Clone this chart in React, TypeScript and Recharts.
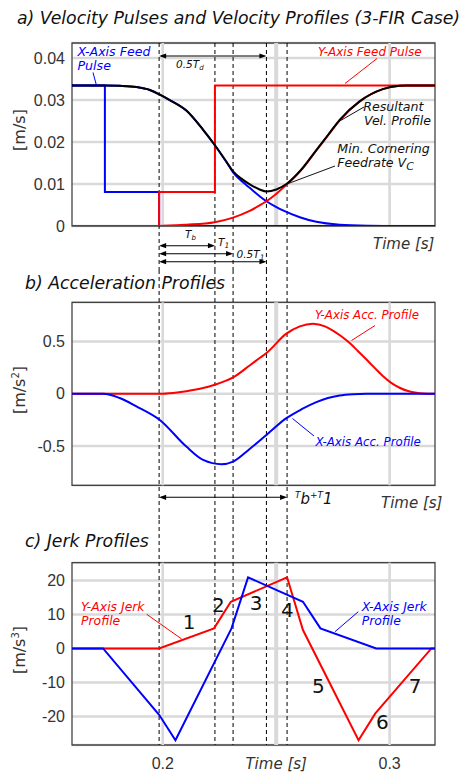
import React from 'react';
import {
  ComposedChart,
  Line,
  XAxis,
  YAxis,
  CartesianGrid,
  ReferenceLine,
  ReferenceArea,
} from 'recharts';

type Pt = [number, number];

// ---------- shared time axis ----------
const timeDomain: [number, number] = [0.16, 0.32];
const timeTicks = [0.2, 0.25, 0.3];
const timeTickLabels: Record<string, string> = { '0.2': '0.2', '0.25': 'Time [s]', '0.3': '0.3' };
const markerTimes = [0.1984, 0.223, 0.231, 0.2457, 0.2548];

// ---------- a) velocity ----------
const velDomain: [number, number] = [0, 0.0436];
const velTicks = [0, 0.01, 0.02, 0.03, 0.04];
const xFeedPulse: Pt[] = [
  [0.16, 0.0335], [0.1745, 0.0335], [0.1745, 0.0081], [0.1984, 0.0081], [0.1984, 0], [0.32, 0],
];
const yFeedPulse: Pt[] = [
  [0.16, 0], [0.1984, 0], [0.1984, 0.0081], [0.223, 0.0081], [0.223, 0.0335], [0.32, 0.0335],
];
const xVelocity: Pt[] = [
  [0.16, 0.0335], [0.1745, 0.0335], [0.181, 0.0334], [0.1884, 0.0331], [0.1943, 0.0324],
  [0.1987, 0.0313], [0.2031, 0.03], [0.2104, 0.0275], [0.2178, 0.0229], [0.2229, 0.0193],
  [0.2281, 0.0152], [0.231, 0.0128], [0.2354, 0.0104], [0.2383, 0.0091], [0.2427, 0.0071],
  [0.2457, 0.0059], [0.2501, 0.0045], [0.253, 0.0037], [0.2604, 0.0021], [0.2677, 0.001],
  [0.278, 0.0003], [0.29, 0.00005], [0.3, 0], [0.32, 0],
];
const yVelocity: Pt[] = [
  [0.16, 0], [0.1984, 0], [0.2104, 0.0003], [0.2229, 0.0009], [0.231, 0.002], [0.2383, 0.0036],
  [0.2427, 0.0049], [0.2457, 0.0059], [0.2501, 0.0077], [0.2545, 0.0098], [0.261, 0.0133],
  [0.2677, 0.018], [0.273, 0.0217], [0.278, 0.0252], [0.2868, 0.0297], [0.297, 0.0326],
  [0.3044, 0.0334], [0.3074, 0.0335], [0.32, 0.0335],
];
const resultantVelocity: Pt[] = [
  [0.16, 0.0335], [0.1745, 0.0335], [0.181, 0.0334], [0.1884, 0.0331], [0.1943, 0.0324],
  [0.1987, 0.0313], [0.2031, 0.03], [0.2104, 0.0275], [0.2178, 0.0229], [0.2229, 0.0193],
  [0.2281, 0.0153], [0.231, 0.013], [0.2354, 0.011], [0.2391, 0.0097], [0.2427, 0.0087],
  [0.2457, 0.0082], [0.2501, 0.0087], [0.2545, 0.01], [0.261, 0.0134], [0.2677, 0.0181],
  [0.273, 0.0218], [0.278, 0.0253], [0.2868, 0.0297], [0.297, 0.0326], [0.3044, 0.0334],
  [0.3074, 0.0335], [0.32, 0.0335],
];

// ---------- b) acceleration ----------
const accDomain: [number, number] = [-0.875, 0.875];
const accTicks = [-0.5, 0, 0.5];
const yAcceleration: Pt[] = [
  [0.16, 0], [0.1987, 0], [0.2045, 0.008], [0.2104, 0.025], [0.2178, 0.055], [0.2229, 0.086],
  [0.231, 0.156], [0.2383, 0.271], [0.2427, 0.342], [0.2457, 0.39], [0.2545, 0.575],
  [0.2604, 0.645], [0.2662, 0.67], [0.2715, 0.645], [0.275, 0.605], [0.2787, 0.55],
  [0.2824, 0.485], [0.286, 0.41], [0.2897, 0.33], [0.2933, 0.25], [0.297, 0.17],
  [0.3007, 0.105], [0.3044, 0.058], [0.3081, 0.026], [0.3118, 0.009], [0.315, 0.002],
  [0.3176, 0], [0.32, 0],
];
const xAcceleration: Pt[] = [
  [0.16, 0], [0.1737, 0], [0.181, -0.04], [0.1884, -0.12], [0.1987, -0.25], [0.2104, -0.505],
  [0.2178, -0.632], [0.2259, -0.673], [0.231, -0.648], [0.2383, -0.527], [0.2457, -0.393],
  [0.2545, -0.233], [0.261, -0.15], [0.2677, -0.08], [0.2728, -0.04], [0.278, -0.016],
  [0.284, -0.004], [0.2897, 0], [0.32, 0],
];

// ---------- c) jerk ----------
const jerkDomain: [number, number] = [-28.4, 25.2];
const jerkTicks = [-20, -10, 0, 10, 20];
const xJerk: Pt[] = [
  [0.16, 0], [0.1737, 0], [0.1984, -19.5], [0.2056, -27], [0.2303, 5.9], [0.2376, 20.9],
  [0.2618, 13.7], [0.2695, 5.9], [0.2941, 0], [0.32, 0],
];
const yJerk: Pt[] = [
  [0.16, 0], [0.1984, 0], [0.2226, 5.9], [0.23, 13.7], [0.2548, 20.9], [0.2618, 5.4],
  [0.2863, -27], [0.2937, -19.1], [0.3184, 0], [0.32, 0],
];

// ---------- styling ----------
const W = 466;
const RED = '#ff0000';
const BLUE = '#0000ff';
const GRID = '#d9d9d9';
const SANS = 'DejaVu Sans';
const TICKFONT = 'Liberation Sans';

type Series = { data: Pt[]; color: string; smooth?: boolean };
type Arrow = { from: number; to: number; y: number };

const toRows = (pts: Pt[]) => pts.map(([t, v]) => ({ t, v }));

const dashShape = (mode: 'a' | 'b' | 'c', height: number) => (p: any) => {
  const top = Math.min(p.y1, p.y2);
  const bottom = Math.max(p.y1, p.y2);
  const ya = mode === 'a' ? top : 0;
  const yb = mode === 'c' ? bottom : height;
  return <line x1={p.x1} x2={p.x1} y1={ya} y2={yb} stroke="#000" strokeWidth={1} strokeDasharray="4 3" />;
};

const arrowShape = (y: number) => (p: any) => {
  const a = Math.min(p.x1, p.x2);
  const b = Math.max(p.x1, p.x2);
  const L = 7;
  const H = 2.6;
  return (
    <g>
      <line x1={a + 2} x2={b - 2} y1={y} y2={y} stroke="#000" strokeWidth={1.1} />
      <polygon points={`${a},${y} ${a + L},${y - H} ${a + L},${y + H}`} fill="#000" />
      <polygon points={`${b},${y} ${b - L},${y - H} ${b - L},${y + H}`} fill="#000" />
    </g>
  );
};

const TimeTick = (p: any) => {
  const v = p.payload.value;
  const mid = v === 0.25;
  return (
    <text
      x={p.x}
      y={p.y + 12}
      textAnchor="middle"
      fontFamily={mid ? SANS : TICKFONT}
      fontStyle={mid ? 'italic' : 'normal'}
      fontSize={mid ? 15 : 16}
      fill="#333"
    >
      {timeTickLabels[String(v)]}
    </text>
  );
};

function Panel(props: {
  top: number;
  height: number;
  mTop: number;
  mBottom: number;
  domain: [number, number];
  ticks: number[];
  series: Series[];
  mode: 'a' | 'b' | 'c';
  arrows: Arrow[];
  showX: boolean;
}) {
  const { top, height, mTop, mBottom, domain, ticks, series, mode, arrows, showX } = props;
  return (
    <div style={{ position: 'absolute', left: 0, top, width: W, height }}>
      <ComposedChart width={W} height={height} margin={{ top: mTop, right: 31, bottom: mBottom, left: 0 }}>
        <CartesianGrid vertical={false} stroke={GRID} strokeWidth={2.5} />
        <XAxis
          type="number"
          dataKey="t"
          domain={timeDomain}
          ticks={timeTicks}
          allowDataOverflow
          hide={!showX}
          height={showX ? 33 : 0}
          axisLine={false}
          tickLine={false}
          tickSize={0}
          tickMargin={12}
          interval={0}
          tick={<TimeTick />}
        />
        <YAxis
          type="number"
          domain={domain}
          ticks={ticks}
          allowDataOverflow
          width={72}
          axisLine={false}
          tickLine={false}
          tickSize={0}
          tickMargin={7}
          interval={0}
          tick={{ fill: '#333', fontSize: 16, fontFamily: TICKFONT }}
        />
        {timeTicks.map((t) => (
          <ReferenceLine key={'g' + t} x={t} stroke={GRID} strokeWidth={t === 0.25 ? 4 : 2.6} />
        ))}
        <ReferenceArea
          x1={timeDomain[0]}
          x2={timeDomain[1]}
          y1={domain[0]}
          y2={domain[1]}
          fill="none"
          fillOpacity={0}
          stroke="#444"
          strokeWidth={1.3}
          ifOverflow="visible"
        />
        {markerTimes.map((t) => (
          <ReferenceLine key={'d' + t} x={t} shape={dashShape(mode, height)} />
        ))}
        {series.map((s, i) => (
          <Line
            key={'s' + i}
            data={toRows(s.data)}
            dataKey="v"
            type={s.smooth ? 'monotone' : 'linear'}
            stroke={s.color}
            strokeWidth={2}
            dot={false}
            activeDot={false}
            isAnimationActive={false}
          />
        ))}
        {arrows.map((a, i) => (
          <ReferenceLine
            key={'a' + i}
            segment={[{ x: a.from, y: domain[0] }, { x: a.to, y: domain[0] }]}
            ifOverflow="visible"
            shape={arrowShape(a.y)}
          />
        ))}
      </ComposedChart>
    </div>
  );
}

const it = { fontFamily: SANS, fontStyle: 'italic' as const };

function Overlay() {
  return (
    <svg
      width={W}
      height={778}
      style={{ position: 'absolute', left: 0, top: 0, pointerEvents: 'none' }}
    >
      {/* titles */}
      <text x={17} y={24} fontSize={17.3} fill="#111" {...it}>a) Velocity Pulses and Velocity Profiles (3-FIR Case)</text>
      <text x={25} y={289} fontSize={17.3} fill="#111" {...it}>b) Acceleration Profiles</text>
      <text x={25} y={547} fontSize={17.3} fill="#111" {...it}>c) Jerk Profiles</text>

      {/* y labels */}
      <text x={0} y={0} transform="translate(25,130) rotate(-90)" textAnchor="middle" fontFamily={SANS} fontSize={16} fill="#333">[m/s]</text>
      <text x={0} y={0} transform="translate(25,390) rotate(-90)" textAnchor="middle" fontFamily={SANS} fontSize={16} fill="#333">
        [m/s<tspan fontSize={10} dy={-6}>2</tspan><tspan dy={6}>]</tspan>
      </text>
      <text x={0} y={0} transform="translate(25,650) rotate(-90)" textAnchor="middle" fontFamily={SANS} fontSize={16} fill="#333">
        [m/s<tspan fontSize={10} dy={-6}>3</tspan><tspan dy={6}>]</tspan>
      </text>

      {/* x labels for a and b */}
      <text x={373} y={249} fontSize={15} fill="#333" {...it}>Time [s]</text>
      <text x={381} y={508} fontSize={15} fill="#333" {...it}>Time [s]</text>

      {/* panel a annotations */}
      <text x={77.5} y={55.5} fontSize={12.6} fill={BLUE} {...it}>X-Axis Feed</text>
      <text x={77.5} y={69.5} fontSize={12.6} fill={BLUE} {...it}>Pulse</text>
      <line x1={93} y1={72.5} x2={96.5} y2={85.5} stroke={BLUE} strokeWidth={1} />
      <text x={318} y={56} fontSize={12} fill={RED} {...it}>Y-Axis Feed Pulse</text>
      <line x1={377} y1={58.5} x2={345} y2={83.5} stroke={RED} strokeWidth={1} />
      <text x={363.3} y={111.2} fontSize={12.6} fill="#111" {...it}>Resultant</text>
      <text x={364} y={125.2} fontSize={12.6} fill="#111" {...it}>Vel. Profile</text>
      <line x1={364} y1={107} x2={338} y2={122} stroke="#111" strokeWidth={1} />
      <text x={337.3} y={152.8} fontSize={12.6} fill="#111" {...it}>Min. Cornering</text>
      <text x={337.3} y={166.8} fontSize={12.6} fill="#111" {...it}>
        Feedrate V<tspan fontSize={11} dy={3}>C</tspan>
      </text>
      <line x1={335} y1={166} x2={287} y2={184} stroke="#111" strokeWidth={1} />
      <text x={176} y={68} fontSize={10.5} fill="#111" {...it}>
        0.5T<tspan fontSize={7} dy={2}>d</tspan>
      </text>

      {/* arrow labels under a */}
      <text x={185} y={238} fontSize={10.5} fill="#111" {...it}>
        T<tspan fontSize={7} dy={2}>b</tspan>
      </text>
      <text x={218} y={245.5} fontSize={10.5} fill="#111" {...it}>
        T<tspan fontSize={7.5} dy={2}>1</tspan>
      </text>
      <text x={236.5} y={257.5} fontSize={10.5} fill="#111" {...it}>
        0.5T<tspan fontSize={7.5} dy={2}>1</tspan>
      </text>

      {/* panel b annotations */}
      <text x={315} y={319} fontSize={11.8} fill={RED} {...it}>Y-Axis Acc. Profile</text>
      <line x1={375} y1={325.5} x2={351.5} y2={340.5} stroke={RED} strokeWidth={1} />
      <text x={315.5} y={446} fontSize={11.8} fill={BLUE} {...it}>X-Axis Acc. Profile</text>
      <line x1={314} y1={436} x2={292.5} y2={418.5} stroke={BLUE} strokeWidth={1} />
      <text x={295} y={504} fontSize={15} fill="#111" {...it}>
        <tspan fontSize={9} dy={-6}>T</tspan>
        <tspan dy={6}>b</tspan>
        <tspan fontSize={9} dy={-6}>+T</tspan>
        <tspan dy={6}>1</tspan>
      </text>

      {/* panel c annotations */}
      <text x={81} y={610.5} fontSize={12.4} fill={RED} {...it}>Y-Axis Jerk</text>
      <text x={81} y={624.5} fontSize={12.4} fill={RED} {...it}>Profile</text>
      <line x1={146.7} y1={614.3} x2={181.7} y2={639} stroke={RED} strokeWidth={1} />
      <text x={361.7} y={610.5} fontSize={12.4} fill={BLUE} {...it}>X-Axis Jerk</text>
      <text x={361.7} y={624.5} fontSize={12.4} fill={BLUE} {...it}>Profile</text>
      <line x1={358.3} y1={611.7} x2={335} y2={631.7} stroke={BLUE} strokeWidth={1} />

      {[
        ['1', 189, 629.3],
        ['2', 218.3, 611.7],
        ['3', 256, 610],
        ['4', 287.3, 616.7],
        ['5', 318.3, 693.3],
        ['6', 382.3, 729.3],
        ['7', 415, 693],
      ].map(([s, x, y]) => (
        <text key={s as string} x={x as number} y={y as number} textAnchor="middle" fontFamily={SANS} fontSize={20} fill="#111">
          {s}
        </text>
      ))}
    </svg>
  );
}

export default function App() {
  const velSeries: Series[] = [
    { data: xFeedPulse, color: BLUE },
    { data: yFeedPulse, color: RED },
    { data: xVelocity, color: BLUE, smooth: true },
    { data: yVelocity, color: RED, smooth: true },
    { data: resultantVelocity, color: '#000', smooth: true },
  ];
  const accSeries: Series[] = [
    { data: yAcceleration, color: RED, smooth: true },
    { data: xAcceleration, color: BLUE, smooth: true },
  ];
  const jerkSeries: Series[] = [
    { data: yJerk, color: RED },
    { data: xJerk, color: BLUE },
  ];
  return (
    <div style={{ position: 'absolute', left: 0, top: 0, width: W, height: 778, background: '#fff', overflow: 'hidden' }}>
      <Panel
        top={0}
        height={270}
        mTop={43}
        mBottom={44}
        domain={velDomain}
        ticks={velTicks}
        series={velSeries}
        mode="a"
        showX={false}
        arrows={[
          { from: markerTimes[0], to: markerTimes[3], y: 56 },
          { from: markerTimes[0], to: markerTimes[1], y: 245.7 },
          { from: markerTimes[0], to: markerTimes[2], y: 253.7 },
          { from: markerTimes[0], to: markerTimes[3], y: 261.7 },
        ]}
      />
      <Panel
        top={270}
        height={250}
        mTop={32.3}
        mBottom={34.7}
        domain={accDomain}
        ticks={accTicks}
        series={accSeries}
        mode="b"
        showX={false}
        arrows={[{ from: markerTimes[0], to: markerTimes[4], y: 227.3 }]}
      />
      <Panel
        top={520}
        height={258}
        mTop={42.7}
        mBottom={0}
        domain={jerkDomain}
        ticks={jerkTicks}
        series={jerkSeries}
        mode="c"
        showX={true}
        arrows={[]}
      />
      <Overlay />
    </div>
  );
}
